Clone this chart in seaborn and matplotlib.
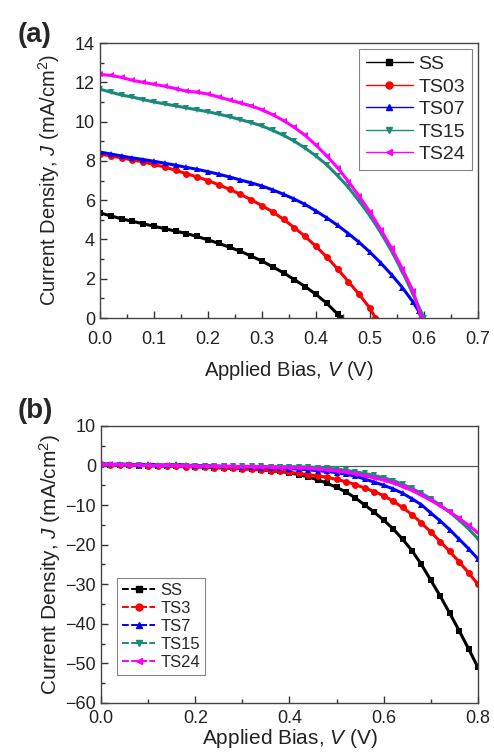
import numpy as np
import pandas as pd
import matplotlib.pyplot as plt
import seaborn as sns
from matplotlib.lines import Line2D
from matplotlib.ticker import MultipleLocator

# ---- panel (a): J-V under illumination ----
names_a = ['SS', 'TS03', 'TS07', 'TS15', 'TS24']

v_ss = [0.00, 0.02, 0.04, 0.06, 0.08, 0.10, 0.12, 0.14, 0.16, 0.18, 0.20, 0.22,
        0.24, 0.26, 0.28, 0.30, 0.32, 0.34, 0.36, 0.38, 0.40, 0.42, 0.44, 0.445]
j_ss = [5.35, 5.2, 5.05, 4.92, 4.8, 4.67, 4.55, 4.42, 4.3, 4.15, 3.98, 3.8,
        3.6, 3.4, 3.15, 2.9, 2.6, 2.3, 1.95, 1.6, 1.2, 0.75, 0.2, 0.0]

v_ts03 = [0.00, 0.02, 0.04, 0.06, 0.08, 0.10, 0.12, 0.14, 0.16, 0.18, 0.20, 0.22, 0.24,
          0.26, 0.28, 0.30, 0.32, 0.34, 0.36, 0.38, 0.40, 0.42, 0.44, 0.46, 0.48, 0.50, 0.51]
j_ts03 = [8.35, 8.25, 8.15, 8.05, 7.95, 7.82, 7.68, 7.52, 7.35, 7.18, 7.0, 6.78, 6.55,
          6.3, 6.02, 5.72, 5.4, 5.02, 4.6, 4.15, 3.65, 3.1, 2.5, 1.85, 1.2, 0.5, 0.0]

v_ts07 = [0.00, 0.02, 0.04, 0.06, 0.08, 0.10, 0.12, 0.14, 0.16, 0.18, 0.20, 0.22, 0.24, 0.26,
          0.28, 0.30, 0.32, 0.34, 0.36, 0.38, 0.40, 0.42, 0.44, 0.46, 0.48, 0.50, 0.52, 0.54,
          0.56, 0.58, 0.59, 0.595]
j_ts07 = [8.45, 8.35, 8.25, 8.15, 8.07, 7.98, 7.88, 7.78, 7.67, 7.57, 7.45, 7.32, 7.18, 7.03,
          6.88, 6.72, 6.52, 6.3, 6.05, 5.78, 5.45, 5.1, 4.72, 4.3, 3.85, 3.35, 2.8, 2.2,
          1.55, 0.8, 0.35, 0.0]

v_ts15 = [0.00, 0.02, 0.04, 0.06, 0.08, 0.10, 0.12, 0.14, 0.16, 0.18, 0.20, 0.22, 0.24, 0.26,
          0.28, 0.30, 0.32, 0.34, 0.36, 0.38, 0.40, 0.42, 0.44, 0.46, 0.48, 0.50, 0.52, 0.54,
          0.56, 0.58, 0.60]
j_ts15 = [11.65, 11.5, 11.35, 11.25, 11.12, 11.0, 10.9, 10.8, 10.7, 10.6, 10.5, 10.38, 10.25, 10.1,
          9.95, 9.78, 9.55, 9.3, 9.0, 8.65, 8.25, 7.8, 7.25, 6.65, 5.95, 5.2, 4.35, 3.4,
          2.35, 1.2, 0.0]

v_ts24 = [0.00, 0.02, 0.04, 0.06, 0.08, 0.10, 0.12, 0.14, 0.16, 0.18, 0.20, 0.22, 0.24, 0.26,
          0.28, 0.30, 0.32, 0.34, 0.36, 0.38, 0.40, 0.42, 0.44, 0.46, 0.48, 0.50, 0.52, 0.54,
          0.56, 0.58, 0.595]
j_ts24 = [12.4, 12.35, 12.25, 12.1, 12.0, 11.9, 11.8, 11.68, 11.55, 11.5, 11.4, 11.25, 11.1, 10.95,
          10.8, 10.6, 10.35, 10.05, 9.7, 9.3, 8.8, 8.25, 7.65, 6.95, 6.2, 5.4, 4.5, 3.55,
          2.5, 1.35, 0.0]

# ---- panel (b): dark J-V ----
names_b = ['SS', 'TS3', 'TS7', 'TS15', 'TS24']
v_dark = [0.00, 0.02, 0.04, 0.06, 0.08, 0.10, 0.12, 0.14, 0.16, 0.18, 0.20, 0.22, 0.24, 0.26,
          0.28, 0.30, 0.32, 0.34, 0.36, 0.38, 0.40, 0.42, 0.44, 0.46, 0.48, 0.50, 0.52, 0.54,
          0.56, 0.58, 0.60, 0.62, 0.64, 0.66, 0.68, 0.70, 0.72, 0.74, 0.76, 0.78, 0.80]
jd_ss = [0.2, 0.1, 0.2, 0.1, 0.0, 0.0, -0.1, -0.1, -0.2, -0.2, -0.3, -0.4, -0.5, -0.6,
         -0.7, -0.8, -0.9, -1.1, -1.3, -1.5, -1.8, -2.3, -2.9, -3.6, -4.5, -5.5, -6.7, -8.2,
         -10.0, -11.8, -13.8, -16.0, -18.6, -21.5, -25.0, -29.0, -33.0, -37.3, -41.7, -46.3, -51.0]
jd_ts3 = [0.3, 0.2, 0.1, 0.2, 0.1, 0.0, -0.1, -0.1, -0.2, -0.3, -0.3, -0.4, -0.5, -0.6,
          -0.7, -0.8, -0.9, -1.1, -1.3, -1.5, -1.7, -2.0, -2.3, -2.6, -3.0, -3.5, -4.1, -4.8,
          -5.7, -6.6, -7.6, -9.0, -10.6, -12.4, -14.5, -16.8, -19.2, -21.7, -24.3, -27.1, -30.0]
jd_ts7 = [0.5, 0.3, 0.4, 0.3, 0.2, 0.3, 0.2, 0.1, 0.3, 0.1, 0.0, 0.0, -0.1, -0.2,
          -0.2, -0.3, -0.4, -0.5, -0.6, -0.7, -0.8, -0.9, -1.1, -1.3, -1.5, -1.8, -2.2, -2.7,
          -3.4, -4.2, -5.0, -5.9, -7.0, -8.4, -9.9, -12.0, -14.0, -16.2, -18.6, -21.0, -23.6]
jd_ts15 = [0.2, 0.1, 0.2, 0.1, 0.1, 0.0, 0.0, 0.0, -0.1, 0.0, -0.1, -0.1, -0.1, -0.2,
           -0.2, -0.2, -0.2, -0.2, -0.3, -0.3, -0.3, -0.3, -0.4, -0.5, -0.7, -0.9, -1.2, -1.6,
           -2.0, -2.5, -3.1, -3.8, -4.7, -5.8, -7.0, -8.4, -10.0, -11.8, -13.8, -16.0, -18.5]
jd_ts24 = [0.2, 0.3, 0.2, 0.2, 0.1, 0.1, 0.0, 0.1, 0.0, -0.1, -0.1, -0.2, -0.2, -0.2,
           -0.3, -0.3, -0.3, -0.4, -0.4, -0.5, -0.5, -0.6, -0.7, -0.9, -1.1, -1.4, -1.7, -2.1,
           -2.6, -3.1, -3.7, -4.4, -5.3, -6.3, -7.5, -8.8, -10.2, -11.7, -13.3, -15.1, -17.0]

colors = ['#000000', '#ff0000', '#0000ff', '#1a8a7a', '#ff00ff']
marks = ['s', 'o', '^', 'v', '<']

# long tables for seaborn
rows_a = []
for name, v, j in zip(names_a, [v_ss, v_ts03, v_ts07, v_ts15, v_ts24],
                      [j_ss, j_ts03, j_ts07, j_ts15, j_ts24]):
    rows_a.append(pd.DataFrame({'V': v, 'J': j, 'sample': name}))
df_a = pd.concat(rows_a, ignore_index=True)

rows_b = []
for name, j in zip(names_b, [jd_ss, jd_ts3, jd_ts7, jd_ts15, jd_ts24]):
    rows_b.append(pd.DataFrame({'V': v_dark, 'J': j, 'sample': name}))
df_b = pd.concat(rows_b, ignore_index=True)

sns.set_theme(style="ticks")
plt.rcParams['font.family'] = ['Liberation Sans', 'DejaVu Sans']
plt.rcParams['mathtext.fontset'] = 'custom'
plt.rcParams['mathtext.rm'] = 'Liberation Sans'
plt.rcParams['mathtext.it'] = 'Liberation Sans:italic'
plt.rcParams['axes.linewidth'] = 1.0

fig = plt.figure(figsize=(4.94, 7.55), dpi=100)
ax1 = fig.add_axes([0.2024, 0.5788, 0.7652, 0.3642])
ax2 = fig.add_axes([0.2045, 0.0689, 0.7630, 0.3669])


def style_axis(ax, pad):
    ax.tick_params(which='both', direction='in', top=False, right=False,
                   labelsize=13, colors='#333333', labelcolor='#222222')
    ax.tick_params(which='major', length=5, width=1)
    ax.tick_params(which='minor', length=3, width=1)
    ax.tick_params(axis='x', which='major', pad=pad)
    for s in ax.spines.values():
        s.set_color('#444444')


# panel (a)
sns.lineplot(data=df_a, x='V', y='J', hue='sample', style='sample',
             palette=dict(zip(names_a, colors)), markers=dict(zip(names_a, marks)),
             dashes=False, markersize=5, markeredgewidth=0, linewidth=2.2,
             sort=False, legend=False, ax=ax1)
ax1.set_xlim(0, 0.7)
ax1.set_ylim(0, 14)
ax1.xaxis.set_minor_locator(MultipleLocator(0.05))
ax1.yaxis.set_major_locator(MultipleLocator(2))
ax1.yaxis.set_minor_locator(MultipleLocator(1))
ax1.set_xticks(np.arange(0, 0.71, 0.1))
ax1.set_xticklabels(['%.1f' % t for t in np.arange(0, 0.71, 0.1)])
style_axis(ax1, 9)
ax1.set_xlabel('Applied Bias, $\\mathit{V}$ (V)', fontsize=14.5, color='#222222', labelpad=8)
ax1.set_ylabel('Current Density, $\\mathit{J}$ (mA/cm$^2$)', fontsize=14.5, color='#222222',
               labelpad=9)
h_a = [Line2D([], [], color=c, marker=m, markersize=5, lw=1.0) for c, m in zip(colors, marks)]
leg = ax1.legend(h_a, names_a, loc='upper right', fontsize=14, frameon=True, fancybox=False,
                 handlelength=2.4, handletextpad=0.3, labelspacing=0.25, borderpad=0.35,
                 borderaxespad=0.3)
leg.get_frame().set_edgecolor('#666666')
leg.get_frame().set_linewidth(0.8)
fig.text(0.035, 0.945, '(a)', fontsize=20, fontweight='bold')

# panel (b)
ax2.axhline(0, color='#555555', lw=0.9, zorder=0)
sns.lineplot(data=df_b, x='V', y='J', hue='sample', style='sample',
             palette=dict(zip(names_b, colors)), markers=dict(zip(names_b, marks)),
             dashes=False, markersize=5, markeredgewidth=0, linewidth=2.2,
             sort=False, legend=False, ax=ax2)
ax2.set_xlim(0, 0.8)
ax2.set_ylim(-60, 10)
ax2.xaxis.set_minor_locator(MultipleLocator(0.1))
ax2.yaxis.set_major_locator(MultipleLocator(10))
ax2.yaxis.set_minor_locator(MultipleLocator(5))
ax2.set_xticks(np.arange(0, 0.81, 0.2))
ax2.set_xticklabels(['%.1f' % t for t in np.arange(0, 0.81, 0.2)])
style_axis(ax2, 5)
ax2.set_xlabel('Applied Bias, $\\mathit{V}$ (V)', fontsize=15, color='#222222', labelpad=0)
ax2.set_ylabel('Current Density, $\\mathit{J}$ (mA/cm$^2$)', fontsize=15, color='#222222',
               labelpad=2)
h_b = [Line2D([], [], color=c, marker=m, markersize=5, lw=1.4, dashes=(3.5, 1.2))
       for c, m in zip(colors, marks)]
leg2 = ax2.legend(h_b, names_b, loc='lower left', bbox_to_anchor=(0.02, 0.07), fontsize=12,
                  frameon=True, fancybox=False, handlelength=2.0, handletextpad=0.3,
                  labelspacing=0.18, borderpad=0.3)
leg2.get_frame().set_edgecolor('#666666')
leg2.get_frame().set_linewidth(0.8)
fig.text(0.035, 0.447, '(b)', fontsize=20, fontweight='bold')

fig.savefig('out.png', dpi=100)
